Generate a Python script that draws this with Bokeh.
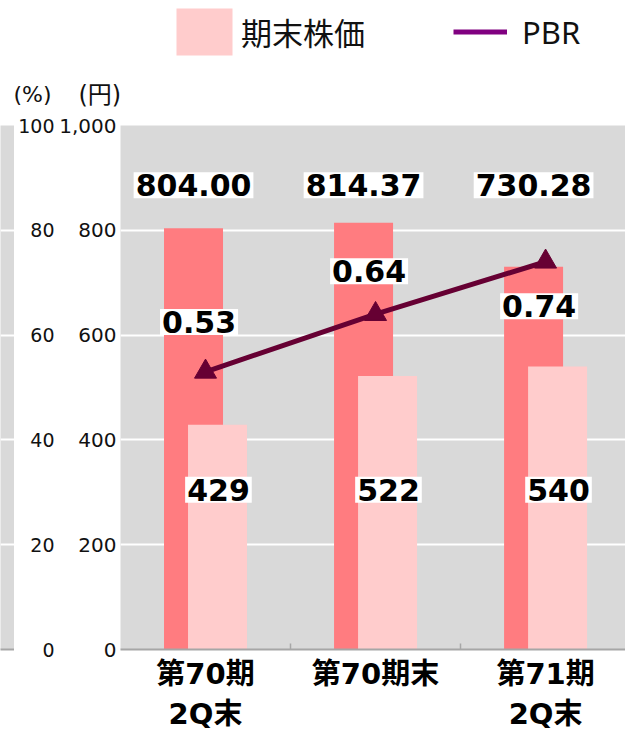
from bokeh.plotting import figure
from bokeh.models import (Range1d, LinearAxis, FixedTicker, NumeralTickFormatter,
                          ColumnDataSource, Legend, LegendItem, Label, Grid)
from bokeh.transform import dodge
from bokeh.core.properties import value
from bokeh.layouts import row, column
from bokeh.embed import file_html
from bokeh.resources import INLINE

# ---------------- data ----------------
categories = ["第70期\n2Q末", "第70期末", "第71期\n2Q末"]
bps = [804.00, 814.37, 730.28]          # dark bars (labelled values)
price = [429, 522, 540]                 # 期末株価
pbr = [0.53, 0.64, 0.74]                # PBR (plotted on % axis)
yen_ticks = [0, 200, 400, 600, 800, 1000]
pct_ticks = [0, 20, 40, 60, 80, 100]

# ---------------- layout constants ----------------
GRAY = "#d9d9d9"
DARK = "#FF7C80"
LIGHT = "#FFCCCC"
LINE = "#660033"
LEG_LINE = "#800080"
AXIS_GRAY = "#a6a6a6"
BAR_W = 0.347
OFF = 0.0706
BPS_LABEL_Y = 886
PRICE_LABEL_Y = 305
PBR_LABEL_SHIFT = [9.5, 8.2, -8.5]      # % units, relative to the point
NUM_FONT = "DejaVu Sans"
CJK_FONT = "DejaVu Sans, Noto Sans CJK JP"
LEG_FONT = "Noto Sans, Noto Sans CJK JP"

xc = [i + 0.5 for i in range(len(categories))]
src = ColumnDataSource(dict(
    xc=xc,
    bps=bps,
    price=price,
    pbr_pct=[v * 100 for v in pbr],
    bps_lbl=[f"{v:.2f}" for v in bps],
    price_lbl=[f"{v}" for v in price],
    pbr_lbl=[f"{v:.2f}" for v in pbr],
    bps_ly=[BPS_LABEL_Y] * len(bps),
    price_ly=[PRICE_LABEL_Y] * len(price),
    pbr_ly=[v * 100 + s for v, s in zip(pbr, PBR_LABEL_SHIFT)],
))

HEAD_H = 113
TOP, BOTTOM = 12, 84
H = 734 - HEAD_H

# ---------------- header (legend + axis titles) ----------------
head = figure(width=625, height=HEAD_H, x_range=Range1d(0, 1), y_range=Range1d(0, 1),
              output_backend="svg", toolbar_location=None,
              x_axis_location=None, y_axis_location=None,
              min_border=0, outline_line_color=None)
head.grid.visible = False
# legend-only renderers: their data lie outside the visible range
leg_bar = head.vbar(x=[5], top=[1], width=1, fill_color=LIGHT, line_color=None)
leg_line = head.line(x=[5, 6], y=[0, 0], line_color=LEG_LINE, line_width=5)
leg_common = dict(orientation="horizontal", padding=0, margin=0,
                  border_line_color=None, background_fill_alpha=0,
                  label_text_font=LEG_FONT, label_text_font_size="31px",
                  label_text_color="#111111")
head.add_layout(Legend(items=[LegendItem(label="期末株価", renderers=[leg_bar])],
                       location=(169, HEAD_H - 61), glyph_width=70, glyph_height=59,
                       label_height=59, label_standoff=2, **leg_common))
head.add_layout(Legend(items=[LegendItem(label="PBR", renderers=[leg_line])],
                       location=(453, HEAD_H - 55), glyph_width=54, glyph_height=47,
                       label_height=47, label_standoff=15, **leg_common))
head.add_layout(Label(x=13, y=HEAD_H - 94, x_units="screen", y_units="screen",
                      text="(%)", text_font=CJK_FONT, text_font_size="22px",
                      text_color="#111111", text_baseline="middle"))
head.add_layout(Label(x=78, y=HEAD_H - 94, x_units="screen", y_units="screen",
                      text="(円)", text_font=CJK_FONT, text_font_size="24px",
                      text_color="#111111", text_baseline="middle"))

# ---------------- left clipped strip ----------------
strip = figure(width=14, height=H, x_range=Range1d(0, 1), y_range=Range1d(0, 1000),
               output_backend="svg", toolbar_location=None,
               x_axis_location=None, y_axis_location=None,
               min_border_left=0, min_border_right=0,
               min_border_top=TOP, min_border_bottom=BOTTOM,
               background_fill_color=GRAY, outline_line_color=None)
strip.grid.visible = False
strip.add_layout(Grid(dimension=1, ticker=FixedTicker(ticks=yen_ticks),
                      grid_line_color="white", grid_line_width=2))
strip.add_layout(LinearAxis(ticker=FixedTicker(ticks=[1]), major_tick_in=5,
                            major_tick_out=0, major_tick_line_color=AXIS_GRAY,
                            minor_tick_line_color=None, axis_line_color=AXIS_GRAY,
                            axis_line_width=2, major_label_overrides={1: ""},
                            major_label_text_font_size="0px",
                            major_label_standoff=0), "below")

# ---------------- main figure ----------------
p = figure(width=611, height=H, x_range=Range1d(0, 2.97), y_range=Range1d(0, 1000),
           output_backend="svg", toolbar_location=None,
           x_axis_location=None, y_axis_location=None,
           min_border_left=106, min_border_right=0,
           min_border_top=TOP, min_border_bottom=BOTTOM,
           background_fill_color=GRAY, outline_line_color=None)
p.grid.visible = False
p.extra_y_ranges = {"pct": Range1d(0, 100)}

p.add_layout(Grid(dimension=1, ticker=FixedTicker(ticks=yen_ticks),
                  grid_line_color="white", grid_line_width=2))

no_ticks = dict(axis_line_color=None, major_tick_line_color=None,
                minor_tick_line_color=None, major_tick_in=0, major_tick_out=0,
                minor_tick_in=0, minor_tick_out=0)

yen_axis = LinearAxis(ticker=FixedTicker(ticks=yen_ticks),
                      formatter=NumeralTickFormatter(format="0,0"),
                      major_label_standoff=4,
                      major_label_text_font=NUM_FONT,
                      major_label_text_font_size="20px",
                      major_label_text_color="#111111", **no_ticks)
p.add_layout(yen_axis, "left")

pct_axis = LinearAxis(y_range_name="pct", ticker=FixedTicker(ticks=pct_ticks),
                      major_label_standoff=2,
                      major_label_text_font=NUM_FONT,
                      major_label_text_font_size="19px",
                      major_label_text_color="#111111", **no_ticks)
p.add_layout(pct_axis, "left")

tick_axis = LinearAxis(ticker=FixedTicker(ticks=[1, 2]),
                       major_tick_in=6, major_tick_out=0,
                       minor_tick_in=0, minor_tick_out=0,
                       major_tick_line_color=AXIS_GRAY, major_tick_line_width=1.5,
                       minor_tick_line_color=None,
                       axis_line_color=AXIS_GRAY, axis_line_width=2,
                       major_label_overrides={1: "", 2: ""},
                       major_label_text_font_size="0px", major_label_standoff=0)
p.add_layout(tick_axis, "below")

cat_axis = LinearAxis(ticker=FixedTicker(ticks=xc),
                      major_label_overrides={x: c for x, c in zip(xc, categories)},
                      major_label_standoff=7,
                      major_label_text_font=CJK_FONT,
                      major_label_text_font_style="bold",
                      major_label_text_font_size="29px",
                      major_label_text_line_height=1.2,
                      major_label_text_color="#000000", **no_ticks)
p.add_layout(cat_axis, "below")

# bars
p.vbar(x=dodge("xc", -OFF), top="bps", width=BAR_W, fill_color=DARK,
       line_color=None, source=src)
p.vbar(x=dodge("xc", OFF), top="price", width=BAR_W, fill_color=LIGHT,
       line_color=None, source=src)

# PBR line
p.line("xc", "pbr_pct", y_range_name="pct", line_color=LINE, line_width=5, source=src)
p.scatter("xc", "pbr_pct", y_range_name="pct", marker="triangle", size=22,
          fill_color=LINE, line_color=LINE, source=src)

# value labels
lbl_kw = dict(text_font=value(NUM_FONT), text_font_style="bold",
              text_font_size="30px", text_color="black",
              text_align="center", text_baseline="middle",
              background_fill_color="white", padding=2)
p.text(x=dodge("xc", -OFF), y="bps_ly", text="bps_lbl", source=src, **lbl_kw)
p.text(x=dodge("xc", 0.076), y="price_ly", text="price_lbl", source=src, **lbl_kw)
p.text(x=dodge("xc", -0.038), y="pbr_ly", text="pbr_lbl", source=src,
       y_range_name="pct", **lbl_kw)

layout = column(head, row(strip, p, spacing=0), spacing=0)
open("out.html", "w").write(file_html(layout, INLINE))
